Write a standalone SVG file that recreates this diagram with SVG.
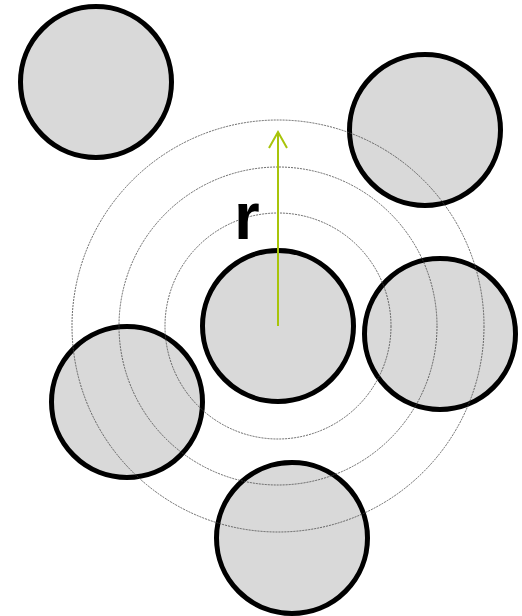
<svg xmlns="http://www.w3.org/2000/svg" width="522" height="616" viewBox="0 0 522 616">
<style>
.node{fill:#d9d9d9;stroke:#000;stroke-width:5}
.ring{fill:none;stroke:#444;stroke-width:0.8;stroke-dasharray:2,1}
.arrow{fill:none;stroke:#a8c40a;stroke-width:2}
.lbl{font-family:"Liberation Sans",Arial,sans-serif;font-weight:bold;font-size:66px;fill:#000}
</style>
<rect width="522" height="616" fill="#fff"/>
<g id="n1"><circle class="node" cx="96" cy="82" r="75.5"/></g>
<g id="n2"><circle class="node" cx="425" cy="130" r="75.5"/></g>
<g id="n3"><circle class="node" cx="278" cy="326" r="75.5"/></g>
<g id="n4"><circle class="node" cx="440" cy="334" r="75.5"/></g>
<g id="n5"><circle class="node" cx="127" cy="402" r="75.5"/></g>
<g id="n6"><circle class="node" cx="292" cy="538" r="75.5"/></g>
<g id="rings">
<circle class="ring" cx="278" cy="326" r="113"/>
<circle class="ring" cx="278" cy="326" r="159"/>
<circle class="ring" cx="278" cy="326" r="206"/>
</g>
<g id="connectors">
<line class="arrow" x1="278" y1="326" x2="278" y2="132"/>
<polyline class="arrow" points="269,148 278,132 287,148"/>
</g>
<text class="lbl" x="234" y="239">r</text>
</svg>
